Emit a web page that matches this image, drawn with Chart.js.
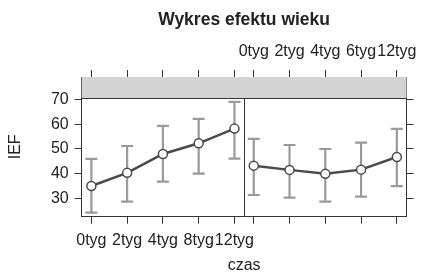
<!DOCTYPE html>
<html>
<head>
<meta charset="utf-8">
<title>Wykres efektu wieku</title>
<script src="https://cdn.jsdelivr.net/npm/chart.js@4/dist/chart.umd.min.js"></script>
<style>
  html, body { margin: 0; padding: 0; background: #fff; }
  #wrap { width: 427px; height: 275px; }
</style>
</head>
<body>
<div id="wrap"><canvas id="myChart" width="427" height="275"></canvas></div>
<script>
(function() {

 'use strict';

 // categories of each panel
 var leftLabels = ['0tyg', '2tyg', '4tyg', '8tyg', '12tyg'];
 var rightLabels = ['0tyg', '2tyg', '4tyg', '6tyg', '12tyg'];

 // effect estimates and their confidence bands
 var leftMean = [35.1, 40.4, 48.0, 52.3, 58.2];
 var leftLower = [24.4, 28.8, 36.9, 40.1, 46.1];
 var leftUpper = [46.0, 51.2, 59.3, 62.1, 69.0];

 var rightMean = [43.3, 41.6, 40.0, 41.7, 46.8];
 var rightLower = [31.5, 30.4, 28.8, 30.8, 35.1];
 var rightUpper = [54.1, 51.6, 50.0, 52.6, 58.1];

 var yTicks = [30, 40, 50, 60, 70];

 // panel geometry in x units (one unit = one category step)
 var pad = 0.27;
 var panelWidth = leftLabels.length - 1 + 2 * pad;
 var rightStart = panelWidth;
 var xMin = -pad, xMax = 2 * panelWidth - pad;
 var yMin = 22.76, yMax = 78.97, stripBottom = 70.52;

 var ink = '#222';
 var frame = '#333';
 var tickFont = { family: "'Liberation Sans', Arial, sans-serif", size: 16, lineHeight: 1 };

 function points(mean, offset) {
   return mean.map(function(v, i) { return { x: offset + i, y: v }; });
 }

 var tickPositions = leftLabels.map(function(l, i) { return i; })
   .concat(rightLabels.map(function(l, i) { return rightStart + i; }));

 function setTicks(scale, list) {
   scale.ticks = list.map(function(v) { return { value: v }; });
 }

 var errorBars = {
   id: 'errorBars',
   beforeDatasetsDraw: function(chart) {
     var ctx = chart.ctx, xs = chart.scales.x, ys = chart.scales.y, area = chart.chartArea;
     ctx.save();
     // strip above the panels
     var sTop = area.top, sBot = ys.getPixelForValue(stripBottom);
     ctx.fillStyle = '#d3d3d3';
     ctx.fillRect(area.left, sTop, area.right - area.left, sBot - sTop);
     ctx.strokeStyle = frame;
     ctx.lineWidth = 1;
     ctx.beginPath();
     ctx.moveTo(area.left, sBot + 0.5);
     ctx.lineTo(area.right, sBot + 0.5);
     var dx = Math.round(xs.getPixelForValue(panelWidth - pad)) + 0.5;
     ctx.moveTo(dx, sBot);
     ctx.lineTo(dx, area.bottom);
     ctx.stroke();

     // confidence bars
     ctx.strokeStyle = '#9a9a9a';
     ctx.lineWidth = 2.2;
     var groups = [[leftLower, leftUpper, 0], [rightLower, rightUpper, rightStart]];
     groups.forEach(function(g) {
       g[0].forEach(function(lo, i) {
         var px = xs.getPixelForValue(g[2] + i);
         var y1 = ys.getPixelForValue(lo), y2 = ys.getPixelForValue(g[1][i]);
         ctx.beginPath();
         ctx.moveTo(px, y1); ctx.lineTo(px, y2);
         ctx.moveTo(px - 6, y1); ctx.lineTo(px + 6, y1);
         ctx.moveTo(px - 6, y2); ctx.lineTo(px + 6, y2);
         ctx.stroke();
       });
     });
     ctx.restore();
   }
 };

 var lineStyle = {
   showLine: true,
   borderColor: '#4a4a4a',
   borderWidth: 2.5,
   pointRadius: 4.5,
   pointBackgroundColor: '#fff',
   pointBorderColor: '#4a4a4a',
   pointBorderWidth: 1.5
 };

 var ctx = document.getElementById('myChart').getContext('2d');
 var chart = new Chart(ctx, {
   type: 'scatter',
   data: {
     datasets: [
       Object.assign({ label: 'left', data: points(leftMean, 0) }, lineStyle),
       Object.assign({ label: 'right', data: points(rightMean, rightStart) }, lineStyle)
     ]
   },
   plugins: [errorBars],
   options: {
     responsive: false,
     animation: false,
     layout: { padding: 0 },
     plugins: { legend: { display: false }, tooltip: { enabled: false } },
     scales: {
       x: {
         type: 'linear', position: 'bottom', min: xMin, max: xMax,
         afterBuildTicks: function(s) { setTicks(s, tickPositions); },
         afterFit: function(s) { s.height = 58.3; },
         grid: { drawOnChartArea: false, tickLength: 7, color: frame },
         border: { color: frame },
         ticks: {
           autoSkip: false, maxRotation: 0, padding: 9, color: ink, font: tickFont,
           callback: function(v, i) { return i < leftLabels.length ? leftLabels[i] : ''; }
         },
         title: { display: true, text: 'czas', color: ink, font: tickFont, padding: { top: 0, bottom: 1.5 } }
       },
       x2: {
         type: 'linear', position: 'top', min: xMin, max: xMax,
         afterBuildTicks: function(s) { setTicks(s, tickPositions); },
         afterFit: function(s) { s.height = 77; },
         grid: { drawOnChartArea: false, tickLength: 7, color: frame },
         border: { color: frame },
         ticks: {
           autoSkip: false, maxRotation: 0, padding: 10, color: ink, font: tickFont,
           callback: function(v, i) { return i < leftLabels.length ? '' : rightLabels[i - leftLabels.length]; }
         },
         title: {
           display: true, text: 'Wykres efektu wieku', color: ink,
           font: { family: "'Liberation Sans', Arial, sans-serif", size: 17.5, weight: 'bold', lineHeight: 1.2 },
           padding: { top: 9.5, bottom: 0 }
         }
       },
       y: {
         type: 'linear', position: 'left', min: yMin, max: yMax,
         afterBuildTicks: function(s) { setTicks(s, yTicks); },
         afterFit: function(s) { s.width = 81.7; },
         grid: { drawOnChartArea: false, tickLength: 7, color: frame },
         border: { color: frame },
         ticks: { padding: 6, color: ink, font: tickFont },
         title: { display: true, text: 'IEF', color: ink, font: tickFont, padding: { top: 8, bottom: 0 } }
       },
       y2: {
         type: 'linear', position: 'right', min: yMin, max: yMax,
         afterBuildTicks: function(s) { setTicks(s, yTicks); },
         afterFit: function(s) { s.width = 19.7; },
         grid: { drawOnChartArea: false, tickLength: 7, color: frame },
         border: { color: frame },
         ticks: { display: false }
       }
     }
   }
 });

 })();
</script>
</body>
</html>
